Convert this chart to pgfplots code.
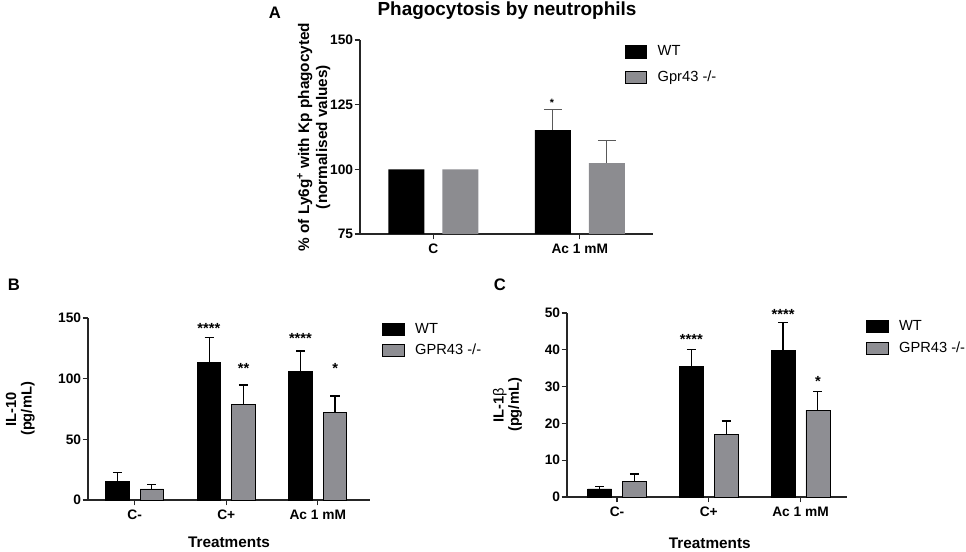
\documentclass[border=0pt]{standalone}
\usepackage{pgfplots}
\pgfplotsset{compat=1.18}
\usepackage{fontspec}
\setmainfont{Liberation Sans}
\definecolor{gbarA}{RGB}{140,140,144}
\definecolor{gbar}{RGB}{142,142,147}
\pgfplotsset{
  panel/.style={
    scale only axis,
    ybar,
    axis x line=bottom, axis y line=left,
    axis line style={-, line width=0.9pt, black!85},
    tick align=outside, major tick length=4pt,
    tick style={line width=0.9pt, black!85},
    /pgf/number format/assume math mode=true,
    ticklabel style={font=\fontsize{10.3}{12}\selectfont\bfseries},
    yticklabel style={inner xsep=1pt},
    legend style={draw=none, fill=none, inner sep=0pt, anchor=north west,
      font=\fontsize{11}{13}\selectfont,
      nodes={inner sep=0pt, text height=8pt, text depth=2pt},
      /tikz/every odd column/.append style={column sep=8pt}},
    legend cell align=left,
    clip=false,
  },
  boxleg/.style={legend image code/.code={\draw[##1] (0pt,-4.6pt) rectangle (16pt,4.6pt);}},
}
\begin{document}
\begin{tikzpicture}
\useasboundingbox (0,0) rectangle (724.5pt,414pt);
% ---------------- Panel A ----------------
\begin{axis}[panel,
  at={(270pt,238.5pt)}, anchor=south west,
  width=219.75pt, height=145.5pt,
  xmin=-0.5, xmax=1.5, ymin=75, ymax=150,
  xtick={0,1}, xticklabels={C, Ac 1 mM},
  ytick={75,100,125,150},
  bar width=27pt,
  ylabel={\% of Ly6g\textsuperscript{+} with Kp phagocyted\\(normalised values)},
  ylabel style={at={(axis description cs:-0.158,0.5)}, anchor=center, align=center,
    font=\fontsize{11.5}{13.5}\selectfont\bfseries},
  legend style={at={(axis description cs:0.904,0.975)}, row sep=9pt},
]
\addplot[fill=black, draw=none, bar shift=-20.25pt, boxleg] coordinates {(0,100) (1,115.2)};
\addplot[fill=gbarA, draw=none, bar shift=20.25pt, boxleg] coordinates {(0,100) (1,102.4)};
\addplot[draw=none, fill=none, bar shift=-20.25pt, forget plot,
  error bars/.cd, y dir=plus, y explicit,
  error bar style={line width=0.8pt, black!65},
  error mark options={rotate=90, mark size=6.75pt, line width=0.8pt, black!65}]
  coordinates {(1,115.2) +- (0,8.1)};
\addplot[draw=none, fill=none, bar shift=20.25pt, forget plot,
  error bars/.cd, y dir=plus, y explicit,
  error bar style={line width=0.8pt, black!65},
  error mark options={rotate=90, mark size=6.75pt, line width=0.8pt, black!65}]
  coordinates {(1,102.4) +- (0,8.6)};
\node[anchor=base, font=\fontsize{8}{9}\selectfont\bfseries] at (axis cs:0.81,124.2) {*};
\legend{WT, Gpr43 -/-}
\end{axis}
% ---------------- Panel B ----------------
\begin{axis}[panel,
  at={(66pt,39pt)}, anchor=south west,
  width=211.5pt, height=136.5pt,
  xmin=-0.51, xmax=2.57, ymin=0, ymax=150,
  xtick={0,1,2}, xticklabels={C-, C+, Ac 1 mM},
  ytick={0,50,100,150},
  bar width=17.6pt,
  ylabel={IL-10\\(pg/mL)},
  ylabel style={at={(axis description cs:-0.24,0.5)}, anchor=center, align=center,
    font=\fontsize{11}{11.5}\selectfont\bfseries},
  xlabel={Treatments},
  xlabel style={at={(axis description cs:0.5,-0.231)}, anchor=center,
    font=\fontsize{11.5}{13}\selectfont\bfseries},
  legend style={at={(axis description cs:1.043,0.975)}, row sep=5.5pt},
  error bars/error bar style={line width=0.8pt, black},
  error bars/error mark options={rotate=90, mark size=3.4pt, line width=0.8pt, black},
]
\addplot[fill=black, draw=black, line width=0.6pt, bar shift=-12.9pt, boxleg,
  error bars/.cd, y dir=plus, y explicit]
  coordinates {(0,15.1) +- (0,7.7) (1,113.2) +- (0,20.9) (2,105.8) +- (0,17.0)};
\addplot[fill=gbar, draw=black, line width=0.6pt, bar shift=12.9pt, boxleg,
  error bars/.cd, y dir=plus, y explicit]
  coordinates {(0,9.1) +- (0,3.8) (1,79.1) +- (0,15.7) (2,72.0) +- (0,13.7)};
\node[anchor=base, font=\fontsize{11}{12}\selectfont\bfseries] at (axis cs:0.81,137.2) {****};
\node[anchor=base, font=\fontsize{11}{12}\selectfont\bfseries] at (axis cs:1.19,104.3) {**};
\node[anchor=base, font=\fontsize{11}{12}\selectfont\bfseries] at (axis cs:1.81,129.0) {****};
\node[anchor=base, font=\fontsize{11}{12}\selectfont\bfseries] at (axis cs:2.19,104.3) {*};
\legend{WT, GPR43 -/-}
\end{axis}
% ---------------- Panel C ----------------
\begin{axis}[panel,
  at={(425.25pt,41.25pt)}, anchor=south west,
  width=210pt, height=138pt,
  xmin=-0.545, xmax=2.507, ymin=0, ymax=50,
  xtick={0,1,2}, xticklabels={C-, C+, Ac 1 mM},
  ytick={0,10,20,30,40,50},
  bar width=18pt,
  ylabel={IL-1{\mdseries β}\\(pg/mL)},
  ylabel style={at={(axis description cs:-0.2125,0.5)}, anchor=center, align=center,
    font=\fontsize{11}{11.5}\selectfont\bfseries},
  xlabel={Treatments},
  xlabel style={at={(axis description cs:0.51,-0.25)}, anchor=center,
    font=\fontsize{11.5}{13}\selectfont\bfseries},
  legend style={at={(axis description cs:1.068,0.965)}, row sep=6.5pt},
  error bars/error bar style={line width=0.8pt, black},
  error bars/error mark options={rotate=90, mark size=3.4pt, line width=0.8pt, black},
]
\addplot[fill=black, draw=black, line width=0.6pt, bar shift=-13.1pt, boxleg,
  error bars/.cd, y dir=plus, y explicit]
  coordinates {(0,2.2) +- (0,0.6) (1,35.4) +- (0,4.8) (2,39.8) +- (0,7.5)};
\addplot[fill=gbar, draw=black, line width=0.6pt, bar shift=13.1pt, boxleg,
  error bars/.cd, y dir=plus, y explicit]
  coordinates {(0,4.2) +- (0,2.05) (1,17.1) +- (0,3.55) (2,23.6) +- (0,5.0)};
\node[anchor=base, font=\fontsize{11}{12}\selectfont\bfseries] at (axis cs:0.81,41.5) {****};
\node[anchor=base, font=\fontsize{11}{12}\selectfont\bfseries] at (axis cs:1.81,48.3) {****};
\node[anchor=base, font=\fontsize{11}{12}\selectfont\bfseries] at (axis cs:2.19,30.1) {*};
\legend{WT, GPR43 -/-}
\end{axis}
% title and panel letters
\node[font=\fontsize{14.2}{16}\selectfont\bfseries] at (380.25pt,406pt) {Phagocytosis by neutrophils};
\node[font=\fontsize{12.5}{14}\selectfont\bfseries] at (206.25pt,404.6pt) {A};
\node[font=\fontsize{12.5}{14}\selectfont\bfseries] at (10.5pt,200.25pt) {B};
\node[font=\fontsize{12.5}{14}\selectfont\bfseries] at (375pt,200.25pt) {C};
\end{tikzpicture}
\end{document}
